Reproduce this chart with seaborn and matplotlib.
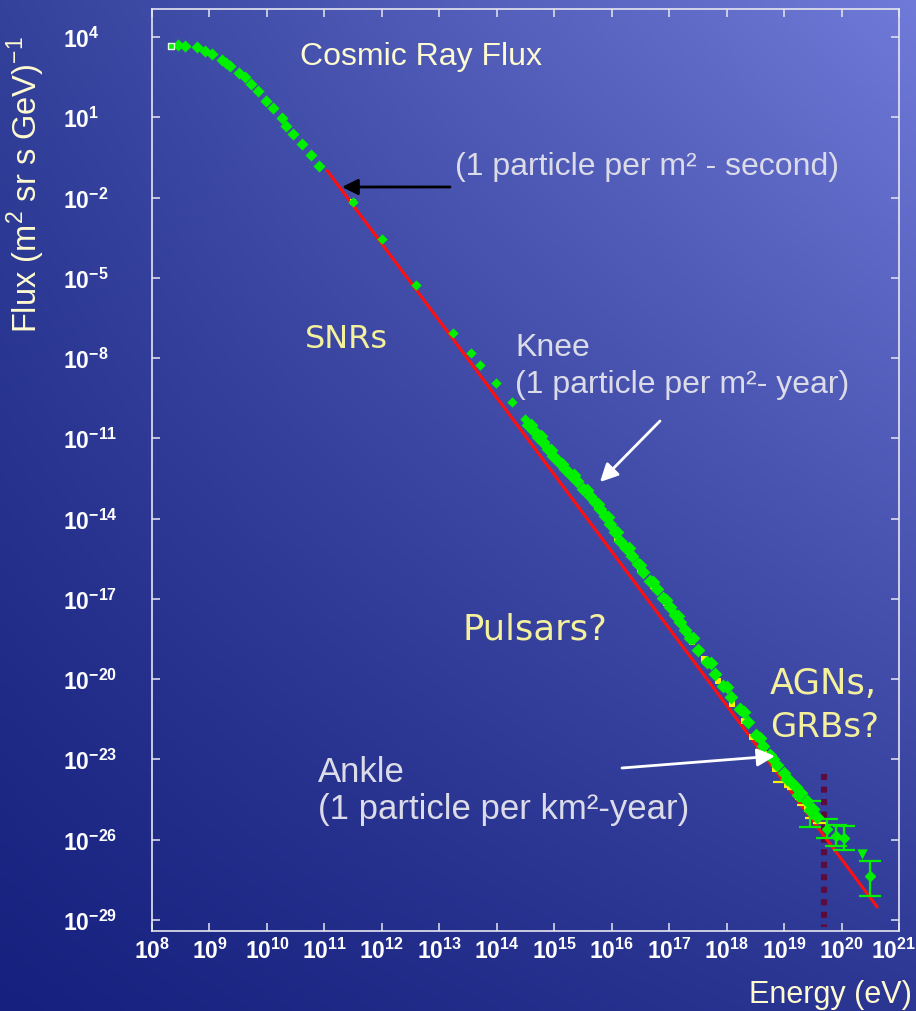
import numpy as np
import matplotlib
matplotlib.use("Agg")
import matplotlib.pyplot as plt
import matplotlib.ticker as mticker
import matplotlib.transforms as mtransforms
import seaborn as sns

# ---------------- data (log10 values) ----------------
first_logE = [8.33]
first_logF = [3.67]

curve_logE = [8.46, 8.57, 8.78, 8.92, 9.04, 9.21, 9.28, 9.36, 9.52, 9.62, 9.73, 9.85,
              9.99, 10.11, 10.26, 10.34, 10.46, 10.61, 10.76, 10.91]
curve_logF = [3.71, 3.67, 3.64, 3.49, 3.36, 3.15, 3.02, 2.93, 2.65, 2.49, 2.24, 1.97,
              1.62, 1.33, 0.96, 0.68, 0.37, 0.00, -0.40, -0.81]

sparse_logE = [11.50, 12.00, 12.59, 13.24, 13.56, 13.71, 13.98, 14.26, 14.49]
sparse_logF = [-2.18, -3.55, -5.26, -7.08, -7.81, -8.26, -8.95, -9.66, -10.28]

band_logE = [14.55, 14.64, 14.72, 14.81, 14.90, 14.98, 15.08, 15.19, 15.29, 15.39,
             15.50, 15.62, 15.71, 15.80, 15.88, 15.97, 16.05, 16.14, 16.25, 16.35,
             16.45, 16.55, 16.66, 16.78, 16.90, 17.01, 17.10, 17.19, 17.28, 17.36,
             17.50, 17.65, 17.80, 17.94, 18.08, 18.23, 18.37, 18.52, 18.64, 18.75,
             18.87, 18.99, 19.10, 19.20, 19.30, 19.40, 19.51, 19.57,
             14.60, 14.77, 14.95, 15.14, 15.35, 15.57, 15.76, 15.93, 16.10, 16.30,
             16.50, 16.72, 16.95, 17.15, 17.42, 17.72, 18.00, 18.30, 18.58, 18.81,
             19.05, 19.25, 19.45]
band_logF = [-10.50, -10.72, -10.95, -11.15, -11.42, -11.65, -11.90, -12.15, -12.38, -12.59,
             -12.88, -13.15, -13.40, -13.64, -13.92, -14.21, -14.50, -14.83, -15.12, -15.39,
             -15.70, -16.01, -16.32, -16.64, -16.98, -17.30, -17.60, -17.88, -18.18, -18.45,
             -18.92, -19.38, -19.82, -20.25, -20.68, -21.12, -21.60, -22.10, -22.50, -22.85,
             -23.20, -23.50, -23.80, -24.05, -24.25, -24.55, -24.86, -25.15,
             -10.50, -10.92, -11.45, -11.95, -12.38, -12.93, -13.45, -13.93, -14.50, -15.10,
             -15.72, -16.38, -17.05, -17.65, -18.48, -19.40, -20.30, -21.25, -22.20, -22.98,
             -23.72, -24.35, -24.90]

yellow_logE = [11.50, 14.70, 14.92, 15.10, 15.30, 15.55, 15.75, 15.95, 16.10, 16.30, 16.50,
               16.72, 16.95, 17.15, 17.40, 17.60, 17.85, 18.10, 18.30, 18.45, 18.65,
               18.85, 19.05, 19.25, 19.40]
yellow_logF = [-2.18, -10.85, -11.45, -11.98, -12.42, -13.02, -13.52, -14.17, -14.72, -15.27,
               -15.92, -16.52, -17.17, -17.82, -18.62, -19.27, -20.07, -20.92, -21.57,
               -22.17, -22.82, -23.37, -23.97, -24.40, -24.85]

dash_logE = [18.93, 19.18, 19.35, 19.48, 19.62]
dash_logF = [-23.85, -24.10, -24.70, -25.20, -25.40]

err_logE = [19.45, 19.75, 19.90, 20.05, 20.50]
err_logF = [-24.95, -25.60, -25.85, -25.95, -27.35]
err_lo = [0.60, 0.35, 0.40, 0.45, 0.76]
err_hi = [0.40, 0.35, 0.40, 0.45, 0.55]

limit_logE = [20.35]
limit_logF = [-26.54]

fit_logE = [11.05, 20.62]
fit_logF = [-1.00, -28.52]

gzk_logE = 19.70
gzk_logF = [-23.55, -29.27]

xtick_exp = list(range(8, 22))
ytick_exp = list(range(4, -30, -3))

# ---------------- figure ----------------
W, H = 916, 1012
sns.set_theme(style="white")
plt.rcParams["font.family"] = ["Liberation Sans", "DejaVu Sans"]
plt.rcParams["mathtext.fontset"] = "custom"
plt.rcParams["mathtext.rm"] = "Liberation Sans"
plt.rcParams["mathtext.bf"] = "Liberation Sans:bold"

fig = plt.figure(figsize=(W / 100, H / 100), dpi=100)

# gradient background
bg = fig.add_axes([0, 0, 1, 1], zorder=-10)
tl = np.array([0x34, 0x42, 0x9c]) / 255
tr = np.array([0x70, 0x7a, 0xd8]) / 255
bl = np.array([0x16, 0x20, 0x7e]) / 255
br = np.array([0x2c, 0x37, 0x94]) / 255
u = np.linspace(0, 1, 200)[None, :, None]
v = np.linspace(0, 1, 220)[:, None, None]
grad = (1 - v) * ((1 - u) * tl + u * tr) + v * ((1 - u) * bl + u * br)
bg.imshow(grad, aspect="auto", extent=[0, 1, 0, 1], interpolation="bicubic")
bg.axis("off")

def fx(px):
    return px / W

def fy(py):
    return 1 - py / H

ax = fig.add_axes([fx(152), fy(932), fx(899) - fx(152), fy(10) - fy(932)])
ax.set_facecolor("none")
ax.set_xscale("log")
ax.set_yscale("log")

p = lambda a: [10.0 ** t for t in a]

# red fit line
sns.lineplot(x=p(fit_logE), y=p(fit_logF), ax=ax, color="#ff1010", linewidth=2.2, zorder=3)

# dotted GZK line
ax.plot([10 ** gzk_logE] * 2, p(gzk_logF), color="#5c0c3c", linewidth=4.4,
        linestyle=(0, (1, 1.05)), dash_capstyle="butt", zorder=2)

green = "#00f000"
sns.scatterplot(x=p(yellow_logE), y=p(yellow_logF), ax=ax, marker="s", s=14,
                color="#f4f000", linewidth=0, zorder=4)
sns.scatterplot(x=p(curve_logE), y=p(curve_logF), ax=ax, marker="D", s=38,
                color=green, linewidth=0, zorder=5)
sns.scatterplot(x=p(sparse_logE), y=p(sparse_logF), ax=ax, marker="D", s=28,
                color=green, linewidth=0, zorder=5)
sns.scatterplot(x=p(band_logE), y=p(band_logF), ax=ax, marker="D", s=50,
                color=green, linewidth=0, zorder=4.5)
sns.scatterplot(x=p(first_logE), y=p(first_logF), ax=ax, marker="s", s=22,
                color=green, edgecolor="#e8ffe8", linewidth=1.0, zorder=5)
sns.scatterplot(x=p(dash_logE), y=p(dash_logF), ax=ax, marker="_", s=100,
                color="#f4f000", linewidth=1.6, zorder=4)

ey = np.array(p(err_logF))
lo = ey - np.array(p([f - d for f, d in zip(err_logF, err_lo)]))
hi = np.array(p([f + d for f, d in zip(err_logF, err_hi)])) - ey
ax.errorbar(p(err_logE), ey, yerr=[lo, hi], fmt="D", ms=5, color=green, ecolor=green,
            elinewidth=1.6, capsize=8, capthick=1.6, zorder=5)
sns.scatterplot(x=p(limit_logE), y=p(limit_logF), ax=ax, marker="v", s=55,
                color=green, linewidth=0, zorder=5)

ax.set_xlim(1e8, 1e21)
ax.set_ylim(10 ** -29.42, 10 ** 5.047)

ax.xaxis.set_major_locator(mticker.FixedLocator([10.0 ** k for k in xtick_exp]))
ax.yaxis.set_major_locator(mticker.FixedLocator([10.0 ** k for k in ytick_exp]))
ax.xaxis.set_minor_locator(mticker.NullLocator())
ax.yaxis.set_minor_locator(mticker.NullLocator())
fmt = mticker.FuncFormatter(lambda val, pos: r"$\mathbf{10^{%d}}$" % int(round(np.log10(val))))
ax.xaxis.set_major_formatter(fmt)
ax.yaxis.set_major_formatter(fmt)

tickc = "#e6e6f0"
ax.tick_params(axis="both", which="major", direction="in", length=5.5, width=1.1,
               color=tickc, labelcolor="white", labelsize=16.5, top=True, right=True,
               bottom=True, left=True)
ax.tick_params(axis="x", pad=5)
ax.tick_params(axis="y", pad=64)
for lab in ax.get_yticklabels():
    lab.set_horizontalalignment("left")
xl = ax.get_xticklabels()
xl[-1].set_transform(xl[-1].get_transform() +
                     mtransforms.ScaledTranslation(-5 / 100, 0, fig.dpi_scale_trans))
for s in ax.spines.values():
    s.set_color(tickc)
    s.set_linewidth(1.2)
    s.set_visible(True)

# ---------------- texts ----------------
ylw = "#f4f09c"
pale = "#fffbd0"
gray = "#dcdce8"
gothic = ["DejaVu Sans"]

fig.text(fx(300), fy(57), "Cosmic Ray Flux", color=pale, fontsize=23, ha="left", va="center")
fig.text(fx(455), fy(167), "(1 particle per m² - second)", color=gray, fontsize=23,
         ha="left", va="center")
fig.text(fx(305), fy(340), "SNRs", color=ylw, fontsize=23, ha="left", va="center", family=gothic)
fig.text(fx(515), fy(348), "Knee", color=gray, fontsize=23, ha="left", va="center")
fig.text(fx(515), fy(385), "(1 particle per m²- year)", color=gray, fontsize=23,
         ha="left", va="center")
fig.text(fx(463), fy(630), "Pulsars?", color=ylw, fontsize=25.5, ha="left", va="center",
         family=gothic)
fig.text(fx(770), fy(684), "AGNs,", color=ylw, fontsize=25.5, ha="left", va="center", family=gothic)
fig.text(fx(770), fy(728), "GRBs?", color=ylw, fontsize=24.5, ha="left", va="center", family=gothic)
fig.text(fx(318), fy(772), "Ankle", color=gray, fontsize=25, ha="left", va="center")
fig.text(fx(318), fy(810), "(1 particle per km²-year)", color=gray, fontsize=25,
         ha="left", va="center")

fig.text(fx(26), fy(185), r"Flux (m$^2$ sr s GeV)$^{-1}$", color=pale, fontsize=23.5,
         rotation=90, ha="center", va="center")
fig.text(fx(912), fy(995), "Energy (eV)", color=pale, fontsize=22, ha="right", va="center")

# ---------------- arrows ----------------
def arrow(x0, y0, x1, y1, color, ms):
    ax.annotate("", xy=(x1, H - y1), xycoords="figure pixels",
                xytext=(x0, H - y0), textcoords="figure pixels",
                arrowprops=dict(arrowstyle="-|>", color=color, lw=2, mutation_scale=ms,
                                shrinkA=0, shrinkB=0), zorder=6)

arrow(450, 188, 342, 188, "black", 24)
arrow(660, 422, 600, 483, "white", 27)
arrow(622, 769, 775, 757, "white", 27)

fig.savefig("out.png", dpi=100)
